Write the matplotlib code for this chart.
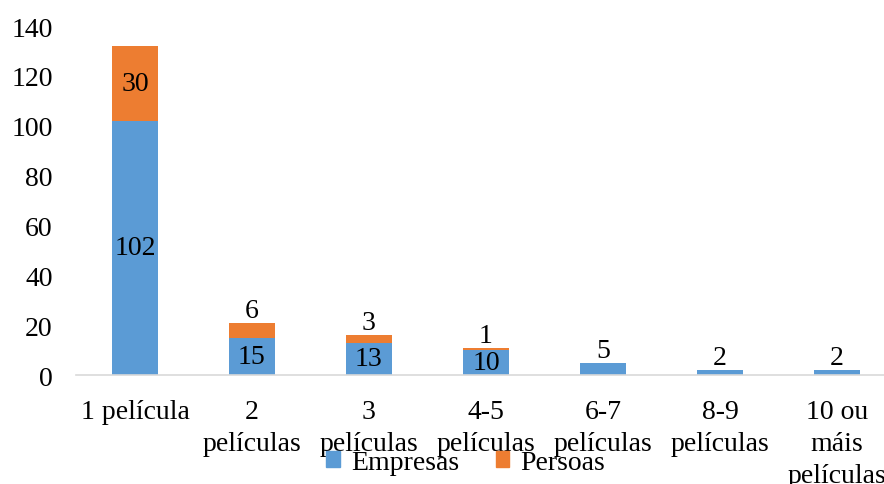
import matplotlib
matplotlib.use("Agg")
import matplotlib.pyplot as plt
import numpy as np
from matplotlib.patches import Patch

categories = ["1 película", "2\npelículas", "3\npelículas", "4-5\npelículas",
              "6-7\npelículas", "8-9\npelículas", "10 ou\nmáis\npelículas"]
empresas = [102, 15, 13, 10, 5, 2, 2]
persoas = [30, 6, 3, 1, 0, 0, 0]
yticks = [0, 20, 40, 60, 80, 100, 120, 140]

blue = "#5B9BD5"
orange = "#ED7D31"
plt.rcParams['font.family'] = ['Liberation Serif', 'DejaVu Serif']
fs = 20

fig = plt.figure(figsize=(8.84, 4.85), dpi=100)
ax = fig.add_axes([0.0865, 0.2247, 0.9265, 0.7196])
x = np.arange(len(categories))
w = 0.39
ax.bar(x, empresas, w, color=blue, label="Empresas")
ax.bar(x, persoas, w, bottom=empresas, color=orange, label="Persoas")

ax.set_xlim(-0.5, len(categories) - 0.5)
ax.set_ylim(0, 140)
ax.set_yticks(yticks)
ax.set_xticks(x)
ax.set_xticklabels(categories, fontsize=fs, linespacing=1.38)
ax.tick_params(axis='y', length=0, labelsize=fs, pad=17)
ax.tick_params(axis='x', length=0, pad=17)
for s in ['top', 'right', 'left']:
    ax.spines[s].set_visible(False)
ax.spines['bottom'].set_color('#D9D9D9')
ax.spines['bottom'].set_linewidth(1.2)

for i, (e, p) in enumerate(zip(empresas, persoas)):
    if e >= 10:
        ax.text(i, e / 2, str(e), ha='center', va='center', fontsize=fs)
    if p >= 10:
        ax.text(i, e + p / 2, str(p), ha='center', va='center', fontsize=fs)
    elif p > 0:
        ax.annotate(str(p), (i, e + p), xytext=(0, 0), textcoords='offset points',
                    ha='center', va='bottom', fontsize=fs)
    if p == 0:
        ax.annotate(str(e), (i, e), xytext=(0, 0), textcoords='offset points',
                    ha='center', va='bottom', fontsize=fs)

handles = [Patch(color=blue), Patch(color=orange)]
fig.legend(handles, ["Empresas", "Persoas"], loc='center', bbox_to_anchor=(0.527, 0.045),
           ncol=2, frameon=False, fontsize=fs, handlelength=0.5, handleheight=0.5,
           handletextpad=0.4, columnspacing=1.3)

fig.savefig("out.png", dpi=100)
